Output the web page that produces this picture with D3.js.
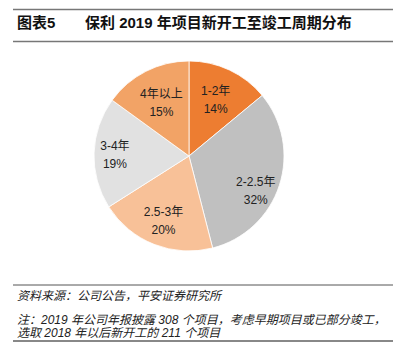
<!DOCTYPE html>
<html><head><meta charset="utf-8">
<script src="https://cdn.jsdelivr.net/npm/d3@7"></script>
<style>
body{margin:0;background:#fff;}
svg{display:block;font-family:"Liberation Sans","Noto Sans CJK SC",sans-serif;}
</style></head>
<body>
<svg id="c" width="402" height="356"></svg>
<script>
const categories = ["1-2年","2-2.5年","2.5-3年","3-4年","4年以上"];
const values = [14,32,20,19,15];
const colors = ["#ED7D31","#C0C0C0","#F8C198","#E1E1E1","#F2A366"];
const titleLeft = "图表5";
const titleRight = "保利 2019 年项目新开工至竣工周期分布";
const sourceText = "资料来源：公司公告，平安证券研究所";
const noteLines = ["注：2019 年公司年报披露 308 个项目，考虑早期项目或已部分竣工，","选取 2018 年以后新开工的 211 个项目"];

const svg = d3.select("#c");
svg.append("line").attr("x1",13).attr("x2",393).attr("y1",9.5).attr("y2",9.5).attr("stroke","#777").attr("stroke-width",1.5);
svg.append("line").attr("x1",13).attr("x2",393).attr("y1",41.5).attr("y2",41.5).attr("stroke","#777").attr("stroke-width",1.5);
svg.append("text").attr("x",17).attr("y",28).attr("font-size",15).attr("font-weight","bold").attr("fill","#111").text(titleLeft);
svg.append("text").attr("x",85).attr("y",28).attr("font-size",15).attr("font-weight","bold").attr("fill","#111").text(titleRight);

const cx=189, cy=156, r=95;
// label placement (layout only): radius factor and angular nudge per slice
const labelR = [0.66,0.79,0.73,0.78,0.64];
const labelNudge = [0,0.16,0,0,0];
const pie = d3.pie().sort(null).value(d=>d.v);
const data = pie(categories.map((c,i)=>({c, v:values[i], col:colors[i]})));
const arc = d3.arc().innerRadius(0).outerRadius(r);
const g = svg.append("g").attr("transform",`translate(${cx},${cy})`);
g.selectAll("path").data(data).join("path").attr("d",arc).attr("fill",d=>d.data.col).attr("stroke","#fff").attr("stroke-width",0.8);
const lab = g.selectAll("g.l").data(data).join("g").attr("class","l").attr("transform",(d,i)=>{
  const a=(d.startAngle+d.endAngle)/2+labelNudge[i], rr=r*labelR[i];
  return `translate(${Math.sin(a)*rr},${-Math.cos(a)*rr})`;
});
lab.append("text").attr("text-anchor","middle").attr("y",-4).attr("font-size",12).attr("fill","#222").text(d=>d.data.c);
lab.append("text").attr("text-anchor","middle").attr("y",14).attr("font-size",12).attr("fill","#222").text(d=>d.data.v+"%");

svg.append("line").attr("x1",13).attr("x2",393).attr("y1",285).attr("y2",285).attr("stroke","#555").attr("stroke-width",1);
svg.append("text").attr("x",17).attr("y",300).attr("font-size",12).attr("font-style","italic").attr("fill","#222").text(sourceText);
noteLines.forEach((t,i)=>svg.append("text").attr("x",17).attr("y",324+i*13).attr("font-size",12).attr("font-style","italic").attr("fill","#222").text(t));
svg.append("line").attr("x1",13).attr("x2",393).attr("y1",341).attr("y2",341).attr("stroke","#888").attr("stroke-width",2);
</script>
</body></html>
